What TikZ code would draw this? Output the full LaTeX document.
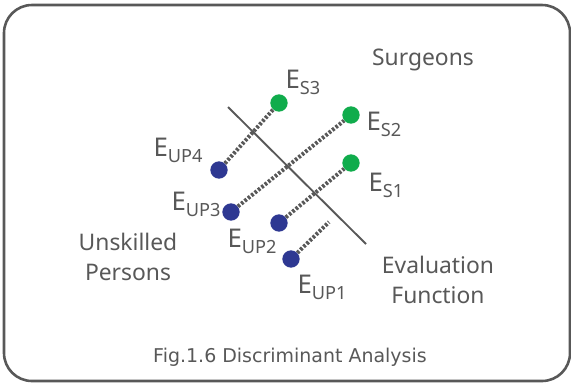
\documentclass[tikz,border=0pt]{standalone}
\usepackage{fontspec}
\setmainfont{Noto Sans}
\newfontfamily\capfont{DejaVu Sans}
\usetikzlibrary{positioning}
\definecolor{ink}{RGB}{88,88,88}
\definecolor{surg}{RGB}{16,172,76}
\definecolor{unsk}{RGB}{46,56,146}
\newcommand{\Eidx}[1]{E\raisebox{-5pt}{\fontsize{15.5}{15}\selectfont #1}}

\begin{document}
\begin{tikzpicture}[x=0.03cm, y=-0.03cm,
    dot/.style={circle, inner sep=0pt, minimum size=0.52cm},
    sdot/.style={dot, fill=surg},
    udot/.style={dot, fill=unsk},
    link/.style={ink, line width=3.4pt, dash pattern=on 2.2pt off 1.5pt},
    lbl/.style={text=ink, font=\fontsize{19.5}{22}\selectfont, inner sep=0pt},
    elbl/.style={lbl, font=\fontsize{22}{22}\selectfont},
    grp/.style={lbl, align=center, font=\fontsize{19.5}{25}\selectfont}]
    \useasboundingbox (0,0) rectangle (571,383);
    \draw[ink, line width=2.2pt, rounded corners=0.84cm] (4,5) rectangle (570,381);

    % dots
    \node (s3) [sdot] at (279,103) {};
    \node (s2) [sdot] at (351,115) {};
    \node (s1) [sdot] at (351,163) {};
    \node (u4) [udot] at (219,170) {};
    \node (u3) [udot] at (231,212) {};
    \node (u2) [udot] at (279,223) {};
    \node (u1) [udot] at (291,259) {};
    \coordinate (u1end) at (329,222);

    % discriminant line
    \coordinate (fa) at (228,107);
    \coordinate (fb) at (366,244);
    \draw[ink, line width=1.6pt] (fa) -- (fb);

    \draw[link] (u4) -- (s3);
    \draw[link] (u3) -- (s2);
    \draw[link] (u2) -- (s1);
    \draw[link] (u1) -- (u1end);

    % labels
    \node (ls3) [elbl] at (303,82) {\Eidx{S3}};
    \node (ls2) [elbl] at (384,124) {\Eidx{S2}};
    \node (ls1) [elbl] at (386,185) {\Eidx{S1}};
    \node (lu4) [elbl] at (178,150) {\Eidx{UP4}};
    \node (lu3) [elbl] at (196,204) {\Eidx{UP3}};
    \node (lu2) [elbl] at (252,241) {\Eidx{UP2}};
    \node (lu1) [elbl] at (322,287) {\Eidx{UP1}};

    \node (surgeons) [lbl] at (423,60) {Surgeons};
    \node (unskilled) [grp] at (128,257) {Unskilled\\Persons};
    \node (evalfn) [grp] at (438,280) {Evaluation\\Function};
    \node (caption) [text=ink, font=\capfont\fontsize{16.2}{18}\selectfont] at (290,357) {Fig.1.6 Discriminant Analysis};
\end{tikzpicture}
\end{document}
